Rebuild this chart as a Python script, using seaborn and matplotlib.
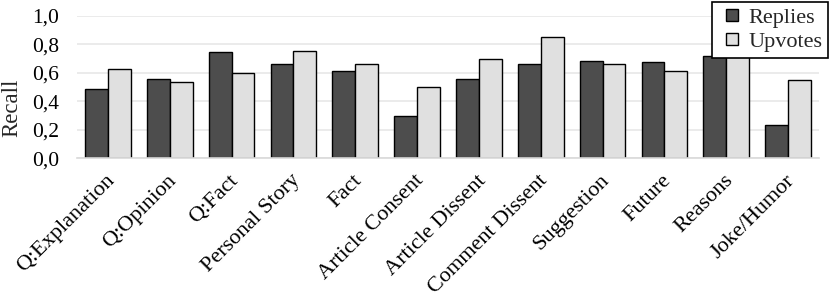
import matplotlib
matplotlib.use("Agg")
import matplotlib.pyplot as plt
import matplotlib.transforms as mtransforms
import seaborn as sns
import pandas as pd
from matplotlib.ticker import FuncFormatter, MultipleLocator
from matplotlib.lines import Line2D

categories = ["Q:Explanation", "Q:Opinion", "Q:Fact", "Personal Story", "Fact",
              "Article Consent", "Article Dissent", "Comment Dissent", "Suggestion",
              "Future", "Reasons", "Joke/Humor"]
replies = [0.485, 0.557, 0.745, 0.665, 0.611, 0.297, 0.557, 0.665, 0.684, 0.675, 0.719, 0.234]
upvotes = [0.627, 0.538, 0.600, 0.754, 0.665, 0.500, 0.700, 0.850, 0.665, 0.611, 0.719, 0.548]
series = ["Replies", "Upvotes"]

df = pd.DataFrame({
    "category": categories * 2,
    "series": [series[0]] * len(categories) + [series[1]] * len(categories),
    "value": replies + upvotes,
})

sns.set_theme(style="white")
plt.rcParams["font.family"] = ["Liberation Serif", "DejaVu Serif"]

fig = plt.figure(figsize=(8.31, 3.02), dpi=100)
ax = fig.add_axes([77 / 831, 1 - 158.3 / 302, (819 - 77) / 831, (158.3 - 16) / 302])

colors = ["#4d4d4d", "#e0e0e0"]
sns.barplot(data=df, x="category", y="value", hue="series", order=categories,
            hue_order=series, palette=colors, width=0.74,
            edgecolor="black", linewidth=1.0, saturation=1, ax=ax, legend=False)

ax.set_ylim(0, 1.0)
ax.set_xlim(-0.5, len(categories) - 0.5)
ax.yaxis.set_major_locator(MultipleLocator(0.2))
ax.yaxis.set_major_formatter(FuncFormatter(lambda v, p: f"{v:.1f}".replace(".", ",")))
ax.grid(axis="y", color="#e8e8e8", linewidth=1.2)
ax.set_axisbelow(True)
for s in ["top", "right", "left"]:
    ax.spines[s].set_visible(False)
ax.spines["bottom"].set_color("#d9d9d9")
ax.spines["bottom"].set_linewidth(1.2)

ax.tick_params(axis="y", length=0, pad=13, labelsize=15.5, colors="black")
ax.tick_params(axis="x", length=0, pad=14, labelsize=16, colors="black")
offset = mtransforms.ScaledTranslation(4 / 100, 0, fig.dpi_scale_trans)
for lab in ax.get_xticklabels():
    lab.set_rotation(45)
    lab.set_ha("right")
    lab.set_va("center")
    lab.set_rotation_mode("anchor")
    lab.set_transform(lab.get_transform() + offset)
ax.set_xlabel("")
ax.set_ylabel("Recall", fontsize=16.5)
ax.yaxis.set_label_coords(-0.074, 0.353)

handles = [Line2D([], [], linestyle="none", marker="s", markersize=9,
                  markerfacecolor=c, markeredgecolor="black", markeredgewidth=1)
           for c in colors]
leg = fig.legend(handles, series, loc="upper right",
                 bbox_to_anchor=(828 / 831, 1 - 2 / 302), fontsize=16,
                 frameon=True, fancybox=False, handlelength=1.3,
                 handletextpad=0.1, borderpad=0.25, labelspacing=0.15,
                 borderaxespad=0)
leg.get_frame().set_edgecolor("black")
leg.get_frame().set_linewidth(1.2)
leg.get_frame().set_alpha(1)

fig.savefig("out.png", dpi=100)
